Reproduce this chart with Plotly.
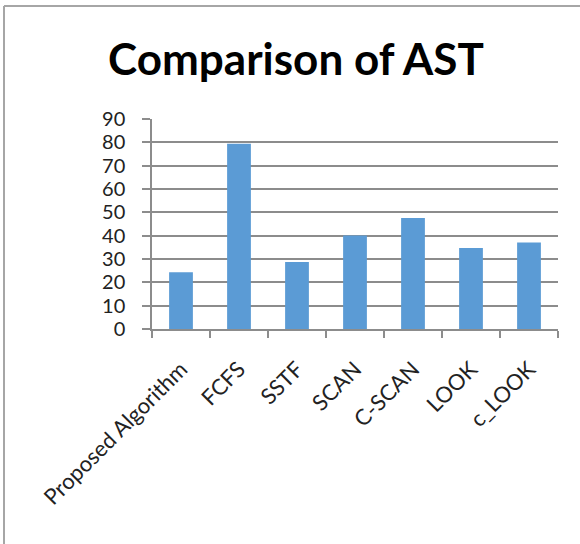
import plotly.graph_objects as go

# Average seek time per disk-scheduling algorithm
algorithms = ["Proposed Algorithm", "FCFS", "SSTF", "SCAN", "C-SCAN", "LOOK", "c_LOOK"]
ast_values = [24.3, 79.4, 28.7, 40.1, 47.6, 34.7, 37.1]
y_ticks = [0, 10, 20, 30, 40, 50, 60, 70, 80, 90]

W, H = 580, 544
L, R, T, B = 152, 22, 119, 215
pw, ph = W - L - R, H - T - B

axis_gray = "#8c8c8c"
font_family = "Lato, 'Open Sans', sans-serif"

fig = go.Figure(
    go.Bar(
        x=algorithms,
        y=ast_values,
        marker=dict(color="#5B9BD5", line=dict(width=0)),
    )
)

# Chart frame (left and top edges of the chart border)
def px_to_paper_x(px):
    return (px - L) / pw

def px_to_paper_y(py):
    return (H - B - py) / ph

frame = dict(color="#a6a6a6", width=2)
fig.add_shape(type="line", xref="paper", yref="paper",
              x0=px_to_paper_x(4), x1=px_to_paper_x(4),
              y0=px_to_paper_y(560), y1=px_to_paper_y(6), line=frame)
fig.add_shape(type="line", xref="paper", yref="paper",
              x0=px_to_paper_x(4), x1=px_to_paper_x(600),
              y0=px_to_paper_y(6), y1=px_to_paper_y(6), line=frame)

fig.update_layout(
    width=W,
    height=H,
    margin=dict(l=L, r=R, t=T, b=B, pad=0),
    paper_bgcolor="white",
    plot_bgcolor="white",
    bargap=0.59,
    showlegend=False,
    title=dict(
        text="<b>Comparison of AST</b>",
        x=296 / W,
        xanchor="center",
        y=1 - 60 / H,
        yanchor="middle",
        font=dict(family=font_family, size=44, color="#000000"),
    ),
    font=dict(family=font_family, color="#222222"),
)

fig.update_xaxes(
    type="category",
    showgrid=False,
    showline=True,
    linecolor=axis_gray,
    linewidth=1.5,
    ticks="outside",
    tickson="boundaries",
    ticklen=7,
    tickwidth=1.5,
    tickcolor=axis_gray,
    tickangle=-45,
    ticklabelstandoff=17,
    tickfont=dict(size=22, color="#222222"),
)

fig.update_yaxes(
    range=[0, 90],
    tickmode="array",
    tickvals=y_ticks,
    ticktext=[str(v) for v in y_ticks],
    showgrid=True,
    gridcolor=axis_gray,
    gridwidth=1.5,
    showline=True,
    linecolor=axis_gray,
    linewidth=1.5,
    ticks="outside",
    ticklen=8,
    tickwidth=1.5,
    tickcolor=axis_gray,
    ticklabelstandoff=13,
    zeroline=False,
    tickfont=dict(size=20, color="#222222"),
)

fig.write_html("out.html")
